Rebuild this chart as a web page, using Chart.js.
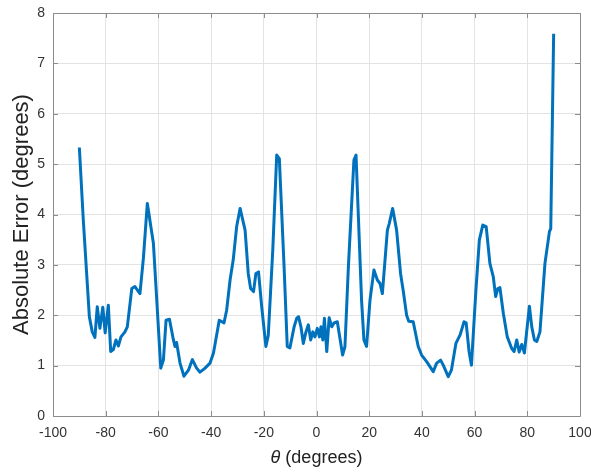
<!DOCTYPE html>
<html>
<head>
<meta charset="utf-8">
<script src="https://cdn.jsdelivr.net/npm/chart.js@4.4.0/dist/chart.umd.min.js"></script>
<style>
  html, body { margin: 0; padding: 0; background: #fff; }
  #wrap { width: 591px; height: 470px; }
</style>
</head>
<body>
<div id="wrap"><canvas id="chart"></canvas></div>
<script>
// theta (degrees) and absolute error (degrees)
const theta = [
  -90.0, -88.5, -86.2, -85.1, -84.1, -83.2, -82.2, -81.1, -80.2, -79.0,
  -78.1, -77.1, -76.1, -75.2, -74.2, -72.7, -71.8, -70.1, -68.9, -67.0,
  -65.7, -64.2, -61.9, -59.1, -58.1, -57.1, -55.8, -54.3, -53.7, -53.1,
  -51.8, -50.3, -48.6, -47.1, -45.5, -44.2, -42.3, -40.4, -39.1, -36.9,
  -35.1, -34.1, -32.8, -31.6, -30.3, -29.0, -27.1, -25.9, -25.0, -23.9,
  -23.0, -22.0, -20.8, -19.2, -18.3, -16.6, -15.1, -14.1, -12.3, -11.1,
  -10.1, -8.5, -7.5, -6.8, -5.9, -5.0, -4.0, -3.1, -2.2, -1.4,
  -0.6, 0.3, 1.1, 1.7, 2.4, 3.0, 3.9, 4.8, 5.8, 6.7,
  7.9, 9.0, 9.9, 10.8, 12.1, 14.2, 15.0, 15.9, 17.1, 18.0,
  19.0, 20.3, 21.8, 23.1, 24.1, 25.0, 26.9, 27.6, 28.9, 30.4,
  31.9, 32.9, 34.2, 35.0, 36.7, 38.6, 39.9, 41.8, 44.3, 45.6,
  47.1, 48.1, 50.0, 51.2, 52.9, 54.5, 56.0, 56.8, 57.9, 58.8,
  60.5, 61.8, 63.1, 64.4, 65.8, 67.1, 68.0, 68.8, 69.6, 70.9,
  72.4, 74.1, 75.0, 76.0, 76.9, 77.9, 78.9, 80.8, 81.7, 82.7,
  83.6, 84.8, 86.7, 88.4, 88.9, 90.0
];
const absError = [
  5.33, 3.89, 1.97, 1.67, 1.56, 2.17, 1.74, 2.16, 1.65, 2.20,
  1.28, 1.32, 1.51, 1.39, 1.57, 1.67, 1.77, 2.53, 2.57, 2.43,
  3.13, 4.22, 3.43, 0.95, 1.11, 1.90, 1.92, 1.51, 1.38, 1.46,
  1.05, 0.79, 0.91, 1.12, 0.95, 0.87, 0.95, 1.05, 1.25, 1.90,
  1.85, 2.10, 2.70, 3.10, 3.76, 4.12, 3.69, 2.83, 2.53, 2.47,
  2.83, 2.86, 2.17, 1.38, 1.60, 3.29, 5.18, 5.11, 2.96, 1.38,
  1.35, 1.77, 1.94, 1.97, 1.77, 1.44, 1.67, 1.81, 1.51, 1.67,
  1.57, 1.74, 1.57, 1.77, 1.51, 1.94, 1.28, 1.95, 1.77, 1.85,
  1.87, 1.51, 1.21, 1.38, 2.96, 5.08, 5.18, 3.95, 2.30, 1.51,
  1.38, 2.30, 2.90, 2.70, 2.63, 2.43, 3.69, 3.82, 4.12, 3.69,
  2.83, 2.49, 2.00, 1.88, 1.87, 1.38, 1.21, 1.08, 0.88, 1.05,
  1.11, 1.01, 0.78, 0.91, 1.44, 1.61, 1.87, 1.85, 1.28, 1.01,
  2.50, 3.49, 3.79, 3.76, 3.03, 2.76, 2.37, 2.53, 2.55, 2.04,
  1.57, 1.34, 1.28, 1.51, 1.27, 1.42, 1.25, 2.18, 1.77, 1.51,
  1.48, 1.67, 3.03, 3.66, 3.72, 7.59
];

const xTicks = [-100, -80, -60, -40, -20, 0, 20, 40, 60, 80, 100];
const yTicks = [0, 1, 2, 3, 4, 5, 6, 7, 8];

const fontFamily = 'Liberation Sans, Arial, sans-serif';
const axisColor = '#8c8c8c';
const tickColor = '#333333';
const gridColor = '#e3e3e3';

// MATLAB style box with inward tick marks, plus the x label with an italic theta
const boxPlugin = {
  id: 'box',
  afterDatasetsDraw(chart) {
    const { ctx, chartArea: a, scales: { x, y } } = chart;
    const len = 5;
    ctx.save();
    ctx.strokeStyle = axisColor;
    ctx.lineWidth = 1;
    ctx.beginPath();
    ctx.rect(Math.round(a.left) + 0.5, Math.round(a.top) + 0.5,
             Math.round(a.width), Math.round(a.height));
    xTicks.forEach(v => {
      const px = Math.round(x.getPixelForValue(v)) + 0.5;
      ctx.moveTo(px, a.bottom); ctx.lineTo(px, a.bottom - len);
      ctx.moveTo(px, a.top); ctx.lineTo(px, a.top + len);
    });
    yTicks.forEach(v => {
      const py = Math.round(y.getPixelForValue(v)) + 0.5;
      ctx.moveTo(a.left, py); ctx.lineTo(a.left + len, py);
      ctx.moveTo(a.right, py); ctx.lineTo(a.right - len, py);
    });
    ctx.stroke();

    // x axis label: "θ (degrees)"
    const sym = '\u03B8', rest = ' (degrees)';
    ctx.fillStyle = '#222';
    ctx.textBaseline = 'middle';
    ctx.textAlign = 'left';
    ctx.font = 'italic 18px ' + fontFamily;
    const w1 = ctx.measureText(sym).width;
    ctx.font = '18px ' + fontFamily;
    const w2 = ctx.measureText(rest).width;
    const cx = (a.left + a.right) / 2;
    const ty = 458;
    let tx = cx - (w1 + w2) / 2;
    ctx.font = 'italic 18px ' + fontFamily;
    ctx.fillText(sym, tx, ty);
    ctx.font = '18px ' + fontFamily;
    ctx.fillText(rest, tx + w1, ty);
    ctx.restore();
  }
};

new Chart(document.getElementById('chart'), {
  type: 'scatter',
  data: {
    datasets: [{
      data: theta.map((t, i) => ({ x: t, y: absError[i] })),
      showLine: true,
      borderColor: '#0072BD',
      borderWidth: 3,
      borderJoinStyle: 'round',
      pointRadius: 0,
      tension: 0,
      clip: false
    }]
  },
  options: {
    responsive: true,
    maintainAspectRatio: false,
    animation: false,
    layout: { padding: { top: 13, right: 11, left: 0, bottom: 0 } },
    plugins: {
      legend: { display: false },
      tooltip: { enabled: false }
    },
    scales: {
      x: {
        type: 'linear',
        min: -100,
        max: 100,
        afterBuildTicks: s => { s.ticks = xTicks.map(v => ({ value: v })); },
        afterFit: s => { s.height = 54; s.paddingLeft = 0; s.paddingRight = 0; },
        ticks: {
          color: tickColor,
          font: { family: fontFamily, size: 14 },
          padding: 9,
          maxRotation: 0
        },
        grid: { color: gridColor, drawTicks: false },
        border: { display: false }
      },
      y: {
        min: 0,
        max: 8,
        afterBuildTicks: s => { s.ticks = yTicks.map(v => ({ value: v })); },
        afterFit: s => { s.width = 53; s.paddingTop = 0; s.paddingBottom = 0; },
        ticks: {
          color: tickColor,
          font: { family: fontFamily, size: 14 },
          padding: 8
        },
        grid: { color: gridColor, drawTicks: false },
        border: { display: false },
        title: {
          display: true,
          text: 'Absolute Error (degrees)',
          color: '#222',
          font: { family: fontFamily, size: 22 },
          padding: { top: 9, bottom: 0 }
        }
      }
    }
  },
  plugins: [boxPlugin]
});
</script>
</body>
</html>
